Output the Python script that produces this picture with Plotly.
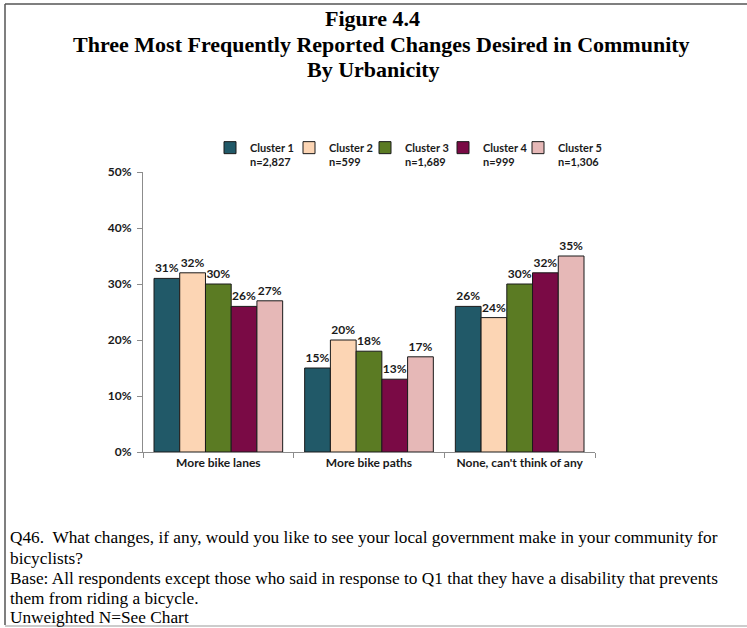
import plotly.graph_objects as go

categories = ["More bike lanes", "More bike paths", "None, can't think of any"]
series_names = ["Cluster 1", "Cluster 2", "Cluster 3", "Cluster 4", "Cluster 5"]
series_n = ["n=2,827", "n=599", "n=1,689", "n=999", "n=1,306"]
series_values = [
    [31, 15, 26],
    [32, 20, 24],
    [30, 18, 30],
    [26, 13, 32],
    [27, 17, 35],
]
series_colors = ["#215968", "#FCD5B4", "#5B7B23", "#7A0A45", "#E6B8B7"]
y_ticks = [0, 10, 20, 30, 40, 50]
y_tick_labels = ["0%", "10%", "20%", "30%", "40%", "50%"]

title_lines = [
    "Figure 4.4",
    "Three Most Frequently Reported Changes Desired in Community",
    "By Urbanicity",
]
footnote_lines = [
    "Q46.  What changes, if any, would you like to see your local government make in your community for",
    "bicyclists?",
    "Base: All respondents except those who said in response to Q1 that they have a disability that prevents",
    "them from riding a bicycle.",
    "Unweighted N=See Chart",
]

W, H = 747, 628
L, R, T, B = 143, 152, 172, 176
PW, PH = W - L - R, H - T - B


def xp(px):
    return (px - L) / PW


def yp(py):
    return (H - B - py) / PH


legend_ids = ["legend", "legend2", "legend3", "legend4", "legend5"]
legend_px = [210, 289, 365, 443, 518]

fig = go.Figure()
for name, n, vals, col, lid in zip(series_names, series_n, series_values, series_colors, legend_ids):
    fig.add_trace(go.Bar(
        name=name + "<br>" + n,
        x=categories,
        y=vals,
        legend=lid,
        marker=dict(color=col, line=dict(color="#1a1a1a", width=1)),
        text=[f"{v}%" for v in vals],
        textposition="outside",
        textfont=dict(family="Lato", size=12, color="#1a1a1a", weight="bold"),
        constraintext="none",
        cliponaxis=False,
    ))

annotations = []
title_y = [18, 44, 70]
title_x = [372, 381, 373]
for txt, py, px in zip(title_lines, title_y, title_x):
    annotations.append(dict(
        text="<b>" + txt + "</b>", x=xp(px), y=yp(py), xref="paper", yref="paper",
        xanchor="center", yanchor="middle", showarrow=False,
        font=dict(family="Liberation Serif", size=22, color="#000000"),
    ))
foot_y = [537, 558, 578, 598, 617]
for txt, py in zip(footnote_lines, foot_y):
    annotations.append(dict(
        text=txt, x=xp(8), y=yp(py), xref="paper", yref="paper",
        xanchor="left", yanchor="middle", showarrow=False,
        font=dict(family="Liberation Serif", size=17.3, color="#000000"),
    ))

shapes = [
    dict(type="line", xref="paper", yref="paper", x0=xp(5), x1=xp(747), y0=yp(4), y1=yp(4),
         line=dict(color="#555555", width=1.5)),
    dict(type="line", xref="paper", yref="paper", x0=xp(5), x1=xp(5), y0=yp(4), y1=yp(625),
         line=dict(color="#555555", width=1.5)),
    dict(type="line", xref="paper", yref="paper", x0=xp(5), x1=xp(747), y0=yp(626), y1=yp(626),
         line=dict(color="#BBBBBB", width=1.5)),
]

legend_layouts = {}
for lid, px in zip(legend_ids, legend_px):
    legend_layouts[lid] = dict(
        orientation="v", x=xp(px), y=yp(134), xanchor="left", yanchor="top",
        valign="top", font=dict(family="Lato", size=11, color="#1a1a1a", weight="bold"),
        bgcolor="rgba(0,0,0,0)", itemwidth=30,
    )

fig.update_layout(
    width=W, height=H,
    margin=dict(l=L, r=R, t=T, b=B, pad=0),
    paper_bgcolor="white", plot_bgcolor="white",
    barmode="group", bargap=0.146, bargroupgap=0,
    font=dict(family="Lato", size=11, color="#1a1a1a"),
    showlegend=True,
    xaxis=dict(
        showline=True, linecolor="#8C8C8C", linewidth=1,
        ticks="outside", tickson="boundaries", ticklen=5, tickcolor="#8C8C8C",
        tickfont=dict(family="Lato", size=12, color="#1a1a1a", weight="bold"),
        showgrid=False, fixedrange=True,
    ),
    yaxis=dict(
        range=[0, 50], tickvals=y_ticks, ticktext=y_tick_labels,
        showline=True, linecolor="#8C8C8C", linewidth=1,
        ticks="outside", ticklen=5, tickcolor="#8C8C8C", ticklabelstandoff=3,
        tickfont=dict(family="Lato", size=12, color="#1a1a1a", weight="bold"),
        showgrid=False, zeroline=False, fixedrange=True,
    ),
    annotations=annotations,
    shapes=shapes,
    **legend_layouts,
)

fig.write_html("out.html", config={"displayModeBar": False},
               post_script="document.body.style.margin='0';")
